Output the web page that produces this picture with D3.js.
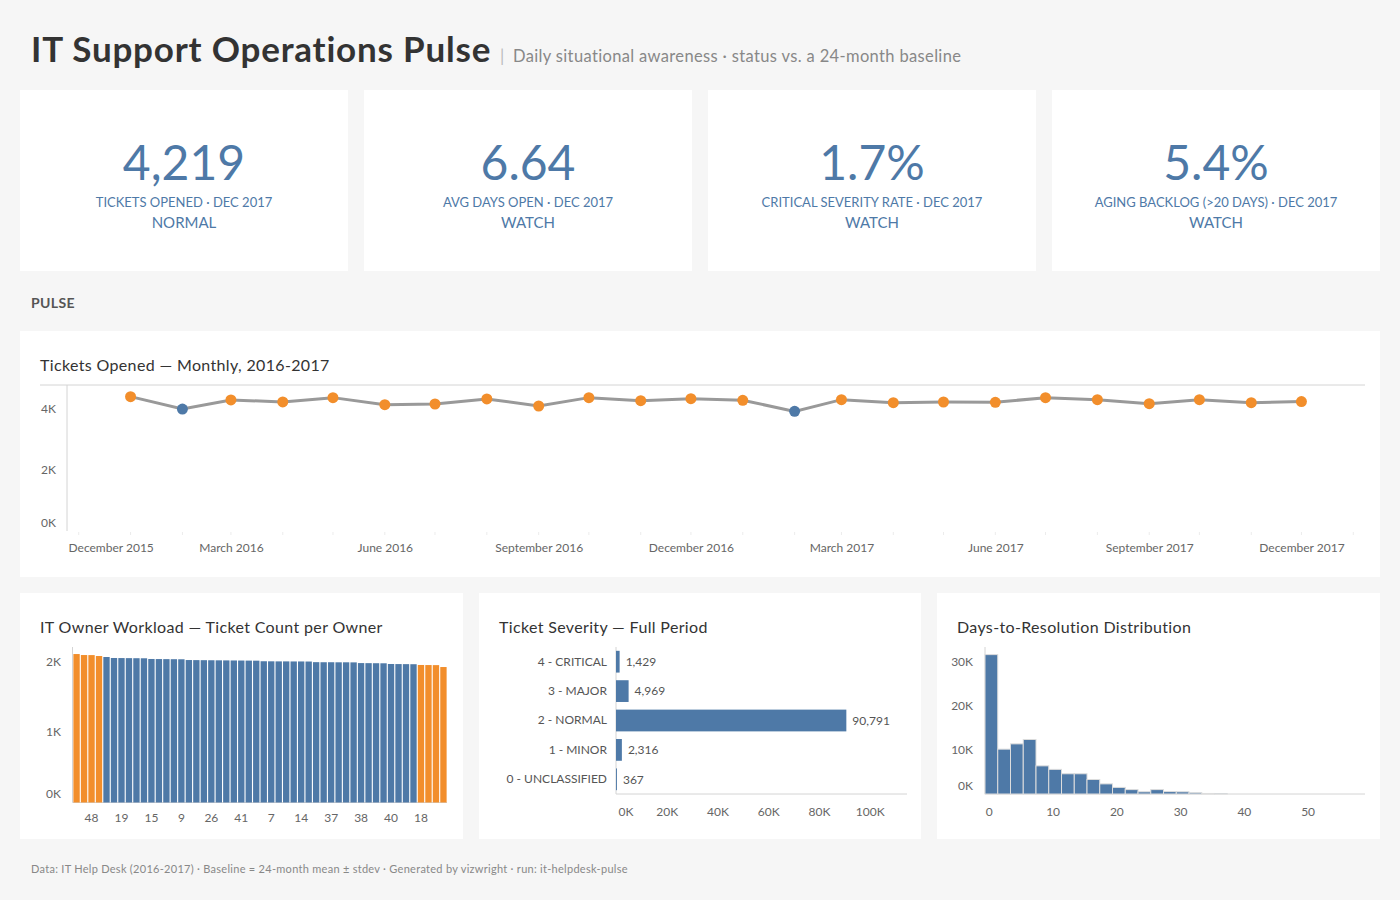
<!doctype html>
<meta charset="utf-8" />
<style>
  body { margin: 0; background: #f6f6f6; }
  svg { display: block; font-family: Lato, "Noto Sans", sans-serif; }
</style>
<svg></svg>

<script src="https://cdn.jsdelivr.net/npm/d3@7"></script>

<script>
    // ---- data ----
    var kpiValues = ['4,219', '6.64', '1.7%', '5.4%'];
    var kpiLabels = ['TICKETS OPENED · DEC 2017', 'AVG DAYS OPEN · DEC 2017',
        'CRITICAL SEVERITY RATE · DEC 2017', 'AGING BACKLOG (>20 DAYS) · DEC 2017'];
    var kpiStatus = ['NORMAL', 'WATCH', 'WATCH', 'WATCH'];

    var months = ['2016-01', '2016-02', '2016-03', '2016-04', '2016-05', '2016-06',
        '2016-07', '2016-08', '2016-09', '2016-10', '2016-11', '2016-12',
        '2017-01', '2017-02', '2017-03', '2017-04', '2017-05', '2017-06',
        '2017-07', '2017-08', '2017-09', '2017-10', '2017-11', '2017-12'];
    var ticketsOpened = [4380, 3977, 4272, 4207, 4348, 4118, 4141, 4305, 4075, 4348, 4250, 4315,
        4262, 3901, 4282, 4184, 4206, 4196, 4348, 4282, 4151, 4282, 4184, 4219];
    var monthStatus = ['out', 'in', 'out', 'out', 'out', 'out', 'out', 'out', 'out', 'out', 'out', 'out',
        'out', 'in', 'out', 'out', 'out', 'out', 'out', 'out', 'out', 'out', 'out', 'out'];

    var ownerIds = [33, 12, 48, 5, 27, 44, 19, 2, 36, 21, 15, 30, 11, 46, 9, 24, 3, 39, 26, 17,
        50, 8, 41, 29, 13, 43, 7, 22, 35, 1, 14, 28, 45, 10, 37, 20, 32, 6, 38, 47,
        23, 16, 40, 31, 42, 4, 18, 34, 49, 25];
    var ownerTickets = [2103, 2089, 2088, 2075, 2061, 2047, 2046, 2045, 2044, 2043,
        2033, 2032, 2031, 2030, 2029, 2018, 2017, 2016, 2015, 2014,
        2013, 2012, 2011, 2010, 2009, 2001, 2000, 1999, 1999, 1998,
        1998, 1997, 1988, 1987, 1987, 1986, 1986, 1985, 1975, 1974,
        1973, 1972, 1962, 1961, 1960, 1959, 1948, 1947, 1946, 1919];
    var ownerStatus = ['out', 'out', 'out', 'out',
        'in', 'in', 'in', 'in', 'in', 'in', 'in', 'in', 'in', 'in', 'in', 'in', 'in', 'in',
        'in', 'in', 'in', 'in', 'in', 'in', 'in', 'in', 'in', 'in', 'in', 'in', 'in', 'in',
        'in', 'in', 'in', 'in', 'in', 'in', 'in', 'in', 'in', 'in', 'in', 'in', 'in', 'in',
        'out', 'out', 'out', 'out'];

    var sevLabels = ['4 - CRITICAL', '3 - MAJOR', '2 - NORMAL', '1 - MINOR', '0 - UNCLASSIFIED'];
    var sevCounts = [1429, 4969, 90791, 2316, 367];

    var histBins = [0, 2, 4, 6, 8, 10, 12, 14, 16, 18, 20, 22, 24, 26, 28, 30, 32, 34, 36];
    var histCounts = [31700, 10200, 11400, 12400, 6400, 5600, 4600, 4600, 3300, 2300,
        1500, 1000, 500, 1000, 550, 500, 300, 120, 80];

    var blue = '#4e79a7', orange = '#f28e2b', axisCol = '#d4d4d4', tickText = '#666';

    var svg = d3.select('svg')
        .attr('width', 1400)
        .attr('height', 900)

    svg.append('rect').attr('width', 1400).attr('height', 900).attr('fill', '#f6f6f6')

    // ---- header ----
    svg.append('text')
        .attr('x', 31).attr('y', 62)
        .style('font-size', '35px').style('font-weight', 700).style('fill', '#333')
        .style('letter-spacing', '0.8px')
        .text('IT Support Operations Pulse')
    svg.append('text')
        .attr('x', 500).attr('y', 62)
        .style('font-size', '17px').style('fill', '#bbb')
        .text('|')
    svg.append('text')
        .attr('x', 513).attr('y', 62)
        .style('font-size', '16.5px').style('fill', '#888')
        .style('letter-spacing', '0.35px')
        .text('Daily situational awareness · status vs. a 24-month baseline')

    // ---- KPI cards ----
    var kpi = svg.selectAll('g.kpi').data(kpiValues).enter().append('g')
        .attr('class', 'kpi')
        .attr('transform', function (d, i) { return 'translate(' + (20 + i * 344) + ',90)'; })
    kpi.append('rect').attr('width', 328).attr('height', 181).attr('fill', '#fff')
    kpi.append('text').attr('x', 164).attr('y', 90).attr('text-anchor', 'middle')
        .style('font-size', '48px').style('fill', blue)
        .text(function (d) { return d; })
    kpi.append('text').attr('x', 164).attr('y', 117).attr('text-anchor', 'middle')
        .style('font-size', '13px').style('fill', blue)
        .text(function (d, i) { return kpiLabels[i]; })
    kpi.append('text').attr('x', 164).attr('y', 138).attr('text-anchor', 'middle')
        .style('font-size', '15px').style('fill', blue)
        .text(function (d, i) { return kpiStatus[i]; })

    svg.append('text').attr('x', 31).attr('y', 308)
        .style('font-size', '14px').style('font-weight', 700).style('fill', '#555')
        .style('letter-spacing', '0.4px')
        .text('PULSE')

    // ---- panels ----
    function panel(x, y, w, h, title) {
        svg.append('rect').attr('x', x).attr('y', y).attr('width', w).attr('height', h).attr('fill', '#fff')
        svg.append('text').attr('x', x + 20).attr('y', y + 40)
            .style('font-size', '16px').style('fill', '#333').style('letter-spacing', '0.35px')
            .text(title)
    }
    function kFmt(v) { return (v / 1000) + 'K'; }
    function styleAxis(g) {
        g.select('.domain').remove()
        g.selectAll('.tick line').remove()
        g.selectAll('.tick text').style('font-size', '12px').style('fill', tickText)
            .style('font-family', 'Lato, "Noto Sans", sans-serif')
    }
    function vline(x, y1, y2) {
        svg.append('line').attr('x1', x).attr('x2', x).attr('y1', y1).attr('y2', y2)
            .attr('stroke', axisCol)
    }
    function hline(x1, x2, y) {
        svg.append('line').attr('x1', x1).attr('x2', x2).attr('y1', y).attr('y2', y)
            .attr('stroke', axisCol)
    }

    // line chart
    panel(20, 331, 1360, 246, 'Tickets Opened — Monthly, 2016-2017')
    var parseMonth = d3.timeParse('%Y-%m');
    var lx = d3.scaleTime()
        .domain([new Date(2015, 10, 24), new Date(2018, 0, 8)])
        .range([67, 1365]);
    var ly = d3.scaleLinear().domain([0, 4760]).range([531, 385]);

    hline(40, 1365, 385)
    vline(67, 385, 531)

    var monthTicks = d3.timeMonth.range(new Date(2015, 11, 1), new Date(2018, 0, 2));
    svg.append('g').selectAll('line').data(monthTicks).enter().append('line')
        .attr('x1', function (d) { return lx(d); }).attr('x2', function (d) { return lx(d); })
        .attr('y1', 532).attr('y2', 535).attr('stroke', '#ececec')

    var gx = svg.append('g').attr('transform', 'translate(0,540)')
        .call(d3.axisBottom(lx).tickValues(monthTicks.filter(function (d, i) { return i % 3 === 0; }))
            .tickFormat(d3.timeFormat('%B %Y')).tickSize(0))
    styleAxis(gx)
    gx.selectAll('.tick text').each(function () {
        var t = d3.select(this);
        var w = this.getComputedTextLength();
        var cx = lx(t.datum());
        if (cx - w / 2 < 68) t.attr('text-anchor', 'start').attr('x', 68 - cx);
    })

    var gy = svg.append('g').attr('transform', 'translate(59,0)')
        .call(d3.axisLeft(ly).tickValues([0, 2000, 4000]).tickFormat(kFmt).tickSize(0))
    styleAxis(gy)
    gy.selectAll('.tick text').filter(function (d) { return d === 0; }).attr('dy', '-0.4em')

    var line = d3.line()
        .x(function (d, i) { return lx(parseMonth(months[i])); })
        .y(function (d) { return ly(d); });
    svg.append('path').datum(ticketsOpened)
        .attr('d', line).attr('fill', 'none').attr('stroke', '#999').attr('stroke-width', 3)
    svg.append('g').selectAll('circle').data(ticketsOpened).enter().append('circle')
        .attr('cx', function (d, i) { return lx(parseMonth(months[i])); })
        .attr('cy', function (d) { return ly(d); })
        .attr('r', 5.5)
        .attr('fill', function (d, i) { return monthStatus[i] === 'in' ? blue : orange; })

    // owner workload
    panel(20, 593, 443, 246, 'IT Owner Workload — Ticket Count per Owner')
    var ox = d3.scaleBand().domain(ownerIds).range([73, 447]).paddingInner(0.15).paddingOuter(0.05);
    var oy = d3.scaleLinear().domain([0, 2207]).range([802.5, 646.7]);
    vline(72.5, 647, 802.5)
    hline(72.5, 447, 802.5)
    svg.append('g').selectAll('rect').data(ownerTickets).enter().append('rect')
        .attr('x', function (d, i) { return ox(ownerIds[i]); })
        .attr('width', ox.bandwidth())
        .attr('y', function (d) { return oy(d); })
        .attr('height', function (d) { return oy(0) - oy(d); })
        .attr('fill', function (d, i) { return ownerStatus[i] === 'out' ? orange : blue; })
    var ogx = svg.append('g').attr('transform', 'translate(0,810)')
        .call(d3.axisBottom(ox).tickValues(ownerIds.filter(function (d, i) { return i % 4 === 2; })).tickSize(0))
    styleAxis(ogx)
    var ogy = svg.append('g').attr('transform', 'translate(64,0)')
        .call(d3.axisLeft(oy).tickValues([0, 1000, 2000]).tickFormat(kFmt).tickSize(0))
    styleAxis(ogy)
    ogy.selectAll('.tick text').filter(function (d) { return d === 0; }).attr('dy', '-0.4em')

    // severity
    panel(479, 593, 442, 246, 'Ticket Severity — Full Period')
    var sx = d3.scaleLinear().domain([0, 114700]).range([616, 907]);
    var sy = d3.scaleBand().domain(sevLabels).range([647, 794]).paddingInner(0.26).paddingOuter(0.13);
    vline(616, 647, 794)
    hline(616, 907, 794)
    svg.append('g').selectAll('rect').data(sevCounts).enter().append('rect')
        .attr('x', sx(0))
        .attr('y', function (d, i) { return sy(sevLabels[i]); })
        .attr('width', function (d) { return sx(d) - sx(0); })
        .attr('height', sy.bandwidth())
        .attr('fill', blue)
    svg.append('g').selectAll('text').data(sevCounts).enter().append('text')
        .attr('x', function (d) { return sx(d) + 6; })
        .attr('y', function (d, i) { return sy(sevLabels[i]) + sy.bandwidth() / 2; })
        .attr('dy', '0.35em')
        .style('font-size', '12px').style('fill', '#555')
        .text(function (d) { return d3.format(',')(d); })
    var sgy = svg.append('g').attr('transform', 'translate(610,0)')
        .call(d3.axisLeft(sy).tickSize(0))
    styleAxis(sgy)
    sgy.selectAll('.tick text').style('fill', '#555')
    var sgx = svg.append('g').attr('transform', 'translate(0,804)')
        .call(d3.axisBottom(sx).tickValues([0, 20000, 40000, 60000, 80000, 100000]).tickFormat(kFmt).tickSize(0))
    styleAxis(sgx)
    sgx.selectAll('.tick text').filter(function (d) { return d === 0; }).attr('text-anchor', 'start').attr('x', 2)

    // histogram
    panel(937, 593, 443, 246, 'Days-to-Resolution Distribution')
    var hx = d3.scaleLinear().domain([-0.6, 59]).range([985, 1365]);
    var hy = d3.scaleLinear().domain([0, 33500]).range([794, 646.7]);
    vline(985, 647, 794)
    hline(985, 1365, 794)
    svg.append('g').selectAll('rect').data(histCounts).enter().append('rect')
        .attr('x', function (d, i) { return hx(histBins[i] - 0.6); })
        .attr('width', function (d, i) { return hx(histBins[i] + 1.4) - hx(histBins[i] - 0.6); })
        .attr('y', function (d) { return hy(d); })
        .attr('height', function (d) { return hy(0) - hy(d); })
        .attr('fill', blue).attr('stroke', '#ddd').attr('stroke-width', 1)
    var hgx = svg.append('g').attr('transform', 'translate(0,804)')
        .call(d3.axisBottom(hx).tickValues([0, 10, 20, 30, 40, 50]).tickSize(0))
    styleAxis(hgx)
    var hgy = svg.append('g').attr('transform', 'translate(976,0)')
        .call(d3.axisLeft(hy).tickValues([0, 10000, 20000, 30000]).tickFormat(kFmt).tickSize(0))
    styleAxis(hgy)
    hgy.selectAll('.tick text').filter(function (d) { return d === 0; }).attr('dy', '-0.4em')

    // footer
    svg.append('text').attr('x', 31).attr('y', 873)
        .style('font-size', '11px').style('fill', '#888').style('letter-spacing', '0.28px')
        .text('Data: IT Help Desk (2016-2017) · Baseline = 24-month mean ± stdev · Generated by vizwright · run: it-helpdesk-pulse')
</script>
